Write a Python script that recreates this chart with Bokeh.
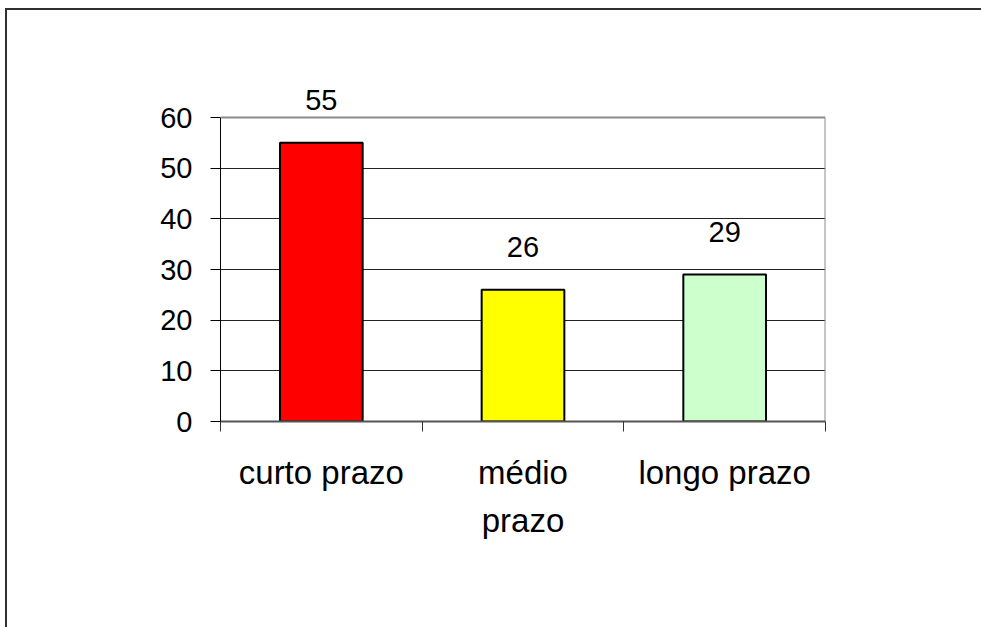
from bokeh.plotting import figure
from bokeh.models import ColumnDataSource, Label, FixedTicker, Range1d, Span
from bokeh.embed import file_html
from bokeh.resources import INLINE

categories = ["curto prazo", "médio\nprazo", "longo prazo"]
values = [55, 26, 29]
colors = ["#FF0000", "#FFFF00", "#CCFFCC"]
y_ticks = [0, 10, 20, 30, 40, 50, 60]

FONT = "Liberation Sans"

n = len(categories)
xpos = [i + 0.5 for i in range(n)]
ymax = y_ticks[-1]
y_view_top = 67.5           # head-room so the value labels are not clipped
src = ColumnDataSource(dict(x=xpos, top=values, color=colors))

p = figure(
    width=974, height=617,
    frame_width=605, frame_height=342,
    min_border_left=213, min_border_top=69,
    min_border_right=156, min_border_bottom=206,
    x_range=Range1d(0, n), y_range=Range1d(0, y_view_top),
    output_backend="svg", toolbar_location=None,
    background_fill_color="white", border_fill_color="white",
)
p.styles = {"margin-left": "5px", "margin-top": "8px",
            "border-left": "2px solid #303030", "border-top": "2px solid #303030"}
p.outline_line_color = None

# grid lines (inner)
p.xgrid.grid_line_color = None
p.ygrid.ticker = FixedTicker(ticks=y_ticks[1:-1])
p.ygrid.grid_line_color = "#222222"
p.ygrid.grid_line_width = 1

# plot-area border: top and right in grey
p.add_layout(Span(location=ymax, dimension="width", line_color="#8c8c8c", line_width=2))
p.segment(x0=[n], y0=[0], x1=[n], y1=[ymax], line_color="#8c8c8c", line_width=2)

p.vbar(x="x", top="top", bottom=0, width=0.41, fill_color="color",
       line_color="black", line_width=2, source=src)

# y axis
ya = p.yaxis[0]
ya.bounds = (0, ymax)
ya.ticker = FixedTicker(ticks=y_ticks)
ya.axis_line_color = "black"
ya.axis_line_width = 1
ya.major_tick_line_color = "black"
ya.major_tick_out = 10
ya.major_tick_in = 0
ya.minor_tick_line_color = None
ya.major_label_text_font = FONT
ya.major_label_text_font_size = "29px"
ya.major_label_text_color = "black"
ya.major_label_standoff = 18

# x axis: labels at category centres, ticks at category boundaries
xa = p.xaxis[0]
xa.ticker = FixedTicker(ticks=xpos, minor_ticks=list(range(n + 1)))
xa.major_label_overrides = {x: c for x, c in zip(xpos, categories)}
xa.axis_line_color = "#555555"
xa.axis_line_width = 2
xa.major_tick_line_color = None
xa.major_tick_out = 0
xa.major_tick_in = 0
xa.minor_tick_line_color = "#333333"
xa.minor_tick_out = 10
xa.minor_tick_in = 0
xa.major_label_text_font = FONT
xa.major_label_text_font_size = "33px"
xa.major_label_text_color = "black"
xa.major_label_text_line_height = 1.32
xa.major_label_standoff = 22

for x, v in zip(xpos, values):
    p.add_layout(Label(x=x, y=v, text=str(v), x_units="data", y_units="data",
                       text_align="center", text_baseline="alphabetic",
                       y_offset=43, text_font=FONT, text_font_size="29px",
                       text_color="black"))

open("out.html", "w").write(file_html(p, INLINE))
